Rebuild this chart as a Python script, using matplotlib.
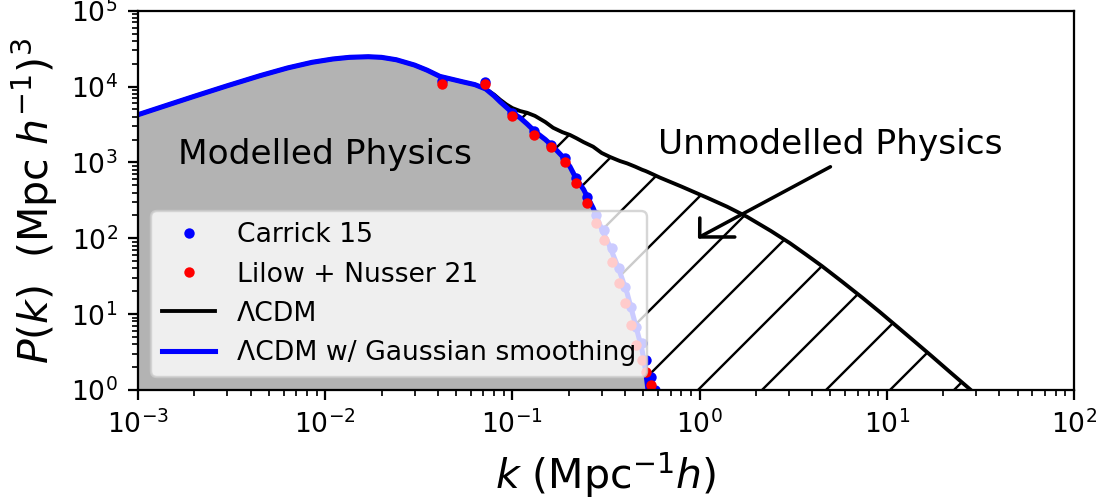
import matplotlib
matplotlib.use("Agg")
import matplotlib.pyplot as plt

DPI = 384

# wavenumber grid shared by both model curves (Mpc^-1 h)
k_grid = [0.001, 0.0015, 0.002, 0.003, 0.0045, 0.0063, 0.0085, 0.011, 0.0135, 0.017,
          0.02, 0.024, 0.03, 0.035, 0.041, 0.048, 0.0545, 0.063, 0.072, 0.08,
          0.086, 0.093, 0.1, 0.11, 0.12, 0.132, 0.15, 0.165, 0.185, 0.203,
          0.22, 0.24, 0.27, 0.3, 0.332, 0.362, 0.376, 0.41, 0.452, 0.493,
          0.514, 0.53, 0.56, 0.614, 0.8, 1.1, 1.4, 1.79, 2.4, 3.04,
          3.7, 4.5, 5.8, 7.46, 9.2, 11.5, 14.2, 17.4, 22, 27.7, 40]

# LCDM power spectrum
pk_lcdm = [4250, 5900, 7440, 10240, 13930, 17590, 20850, 23070, 24270, 24720,
           24250, 22540, 19190, 16440, 13600, 12400, 11500, 10600, 9300, 7800,
           6700, 5800, 5200, 4750, 4500, 4100, 3400, 2860, 2500, 2300,
           2080, 1850, 1610, 1330, 1180, 1080, 1040, 970, 880, 800,
           770, 745, 700, 630, 480, 341, 261, 192, 125, 86,
           61, 43, 26.5, 16.2, 10.6, 6.65, 4.27, 2.78, 1.68, 1.03, 0.46]

# LCDM with Gaussian smoothing
pk_smooth = [4250, 5900, 7440, 10240, 13930, 17590, 20850, 23070, 24270, 24720,
             24250, 22540, 19190, 16440, 13600, 12400, 11500, 10600, 9300, 7500,
             6300, 5300, 4500, 3870, 3200, 2550, 2000, 1610, 1200, 880,
             600, 440, 250, 131, 77, 45, 35, 19, 7.65, 3.37,
             1.85, 1.0, 0.45, 0.1, 1e-3, 1e-4, 1e-4, 1e-4, 1e-4, 1e-4,
             1e-4, 1e-4, 1e-4, 1e-4, 1e-4, 1e-4, 1e-4, 1e-4, 1e-4, 1e-4, 1e-4]

# measured points
k_obs = [0.042, 0.071, 0.10, 0.13, 0.16, 0.19, 0.22, 0.25, 0.28, 0.31,
         0.34, 0.37, 0.40, 0.43, 0.46, 0.49, 0.52, 0.55, 0.58]
pk_carrick = [12000, 11300, 4510, 2610, 1710, 1150, 627, 351, 204, 129,
              75, 40.7, 22.8, 12.4, 6.8, 4.2, 2.5, 1.49, 1.0]
pk_lilow = [10900, 10900, 4120, 2310, 1610, 1020, 538, 293, 160, 95,
            49, 25.8, 14.1, 7.2, 3.9, 2.5, 1.73, 1.16, 0.7]

plt.rcParams.update({
    "font.size": 5.0,
    "legend.fontsize": 5.0,
    "axes.linewidth": 0.42,
    "xtick.major.size": 1.9, "ytick.major.size": 1.9,
    "xtick.minor.size": 1.07, "ytick.minor.size": 1.07,
    "xtick.major.width": 0.42, "ytick.major.width": 0.42,
    "xtick.minor.width": 0.32, "ytick.minor.width": 0.32,
    "xtick.major.pad": 1.9, "ytick.major.pad": 1.9,
    "xtick.minor.pad": 1.9, "ytick.minor.pad": 1.9,
    "axes.labelpad": 2.1,
    "hatch.linewidth": 0.45,
})

fig = plt.figure(figsize=(1104 / DPI, 501.3 / DPI), dpi=DPI)
ax = fig.add_axes([0.125, 0.2216, 0.8478, 0.7565])

ax.fill_between(k_grid, 1e-4, pk_smooth, color="0.7", lw=0)
ax.fill_between(k_grid, pk_smooth, pk_lcdm, facecolor="none", edgecolor="k",
                hatch="//", lw=0)
l_lcdm, = ax.plot(k_grid, pk_lcdm, color="k", lw=0.72, label="ΛCDM")
l_smooth, = ax.plot(k_grid, pk_smooth, color="b", lw=0.95,
                    label="ΛCDM w/ Gaussian smoothing")
p_car, = ax.plot(k_obs, pk_carrick, "o", color="b", ms=1.95, mew=0,
                 label="Carrick 15")
p_lil, = ax.plot(k_obs, pk_lilow, "o", color="r", ms=1.95, mew=0,
                 label="Lilow + Nusser 21")

ax.set_xscale("log")
ax.set_yscale("log")
ax.set_xlim(1e-3, 1e2)
ax.set_ylim(1, 1e5)

ax.text(0.01, 1300, "Modelled Physics", ha="center", va="center", fontsize=6.45)
ax.text(5, 1760, "Unmodelled Physics", ha="center", va="center", fontsize=6.45)
ax.annotate("", xy=(0.98, 101), xytext=(5, 875),
            arrowprops=dict(arrowstyle="->, head_length=0.93, head_width=0.93",
                            lw=0.66, color="k", shrinkA=0, shrinkB=0,
                            mutation_scale=5, mutation_aspect=0.54))

ax.set_xlabel(r"$k$ (Mpc$^{-1}h$)", fontsize=7.7)
ax.set_ylabel(r"$P(k)$  (Mpc $h^{-1}$)$^3$", fontsize=7.7)

leg = ax.legend(handles=[p_car, p_lil, l_lcdm, l_smooth], loc="lower left")
leg.get_frame().set_linewidth(0.45)

fig.savefig("out.png", dpi=DPI)
